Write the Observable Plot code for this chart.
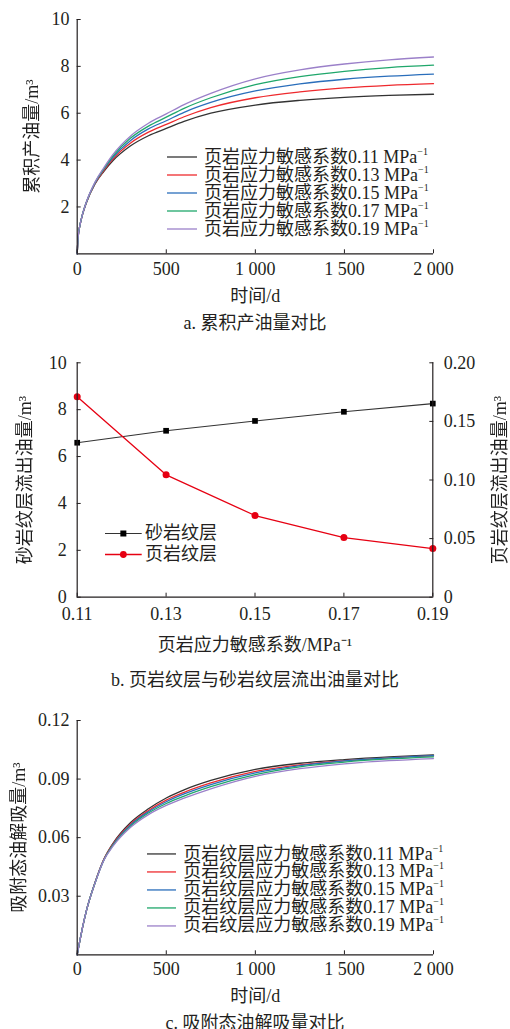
<!DOCTYPE html>
<html><head><meta charset="utf-8">
<script src="https://cdn.jsdelivr.net/npm/d3@7"></script>
<script src="https://cdn.jsdelivr.net/npm/@observablehq/plot@0.6"></script>
<style>
body{margin:0;background:#fff;}
#wrap{position:relative;width:510px;height:1029px;overflow:hidden;font-family:"Liberation Serif","Noto Sans CJK SC",serif;color:#231f20;}
.panel{position:absolute;left:0;}
.cap{position:absolute;left:0;width:510px;text-align:center;font-size:18px;line-height:20px;white-space:nowrap;}
.legend{position:absolute;font-size:18px;}
.legend .row{display:flex;align-items:center;white-space:nowrap;}
.legend .lab{display:inline-block;overflow:visible;}
.sup{font-size:10px;position:relative;top:-8px;}
</style></head>
<body><div id="wrap"></div>
<script>
// ---------- Data ----------
const days = [0, 5, 15, 30, 50, 100, 150, 200, 300, 400, 500, 600, 750, 1000, 1250, 1500, 1750, 2000];
const coefLabels = ["0.11", "0.13", "0.15", "0.17", "0.19"];
const seriesColors = ["#333333", "#ee2a2e", "#2a6ebb", "#1fa76b", "#9b80c9"];

// a. cumulative oil production (m^3)
const cumOil011 = [0, 0.7, 1.2, 1.68, 2.15, 2.98, 3.52, 3.97, 4.61, 5.04, 5.35, 5.65, 6.0, 6.35, 6.55, 6.68, 6.76, 6.81];
const cumOil013 = [0, 0.7, 1.2, 1.68, 2.16, 3.0, 3.56, 4.04, 4.73, 5.19, 5.52, 5.85, 6.24, 6.66, 6.91, 7.08, 7.19, 7.26];
const cumOil015 = [0, 0.7, 1.2, 1.69, 2.17, 3.02, 3.61, 4.11, 4.84, 5.33, 5.68, 6.04, 6.46, 6.95, 7.25, 7.45, 7.58, 7.67];
const cumOil017 = [0, 0.7, 1.2, 1.69, 2.17, 3.04, 3.64, 4.17, 4.94, 5.45, 5.83, 6.21, 6.66, 7.22, 7.56, 7.79, 7.95, 8.05];
const cumOil019 = [0, 0.7, 1.2, 1.69, 2.18, 3.06, 3.68, 4.23, 5.03, 5.57, 5.97, 6.37, 6.85, 7.47, 7.85, 8.10, 8.28, 8.40];

// b. outflow oil vs stress sensitivity coefficient
const stressCoef = [0.11, 0.13, 0.15, 0.17, 0.19];
const sandOil = [6.59, 7.10, 7.52, 7.91, 8.26];
const shaleOil = [0.171, 0.1044, 0.0697, 0.0509, 0.0415];

// c. desorbed adsorbed oil (m^3)
const desorb011 = [0, 0.0025, 0.0073, 0.014, 0.022, 0.037, 0.049, 0.057, 0.0678, 0.0748, 0.0803, 0.0845, 0.0893, 0.0950, 0.0981, 0.1000, 0.1014, 0.1024];
const desorb013 = [0, 0.0025, 0.0073, 0.014, 0.022, 0.0369, 0.0489, 0.0566, 0.067, 0.0739, 0.0792, 0.0832, 0.0880, 0.0939, 0.0973, 0.0994, 0.1009, 0.1019];
const desorb015 = [0, 0.0025, 0.0073, 0.014, 0.022, 0.0368, 0.0487, 0.0562, 0.0665, 0.0733, 0.0784, 0.0824, 0.0872, 0.0932, 0.0969, 0.0993, 0.1009, 0.1020];
const desorb017 = [0, 0.0025, 0.0073, 0.014, 0.022, 0.0368, 0.0486, 0.0559, 0.0659, 0.0726, 0.0775, 0.0813, 0.0861, 0.0923, 0.0963, 0.0987, 0.1003, 0.1014];
const desorb019 = [0, 0.0025, 0.0073, 0.014, 0.022, 0.0367, 0.0485, 0.0555, 0.0653, 0.0718, 0.0765, 0.0802, 0.0850, 0.0914, 0.0953, 0.0978, 0.0994, 0.1005];

const xTicksTime = [0, 500, 1000, 1500, 2000];
const yTicksA = [2, 4, 6, 8, 10];
const yTicksB = [0, 2, 4, 6, 8, 10];
const yTicksBRight = [0, 0.05, 0.10, 0.15, 0.20];
const yTicksC = [0.03, 0.06, 0.09, 0.12];

// ---------- Helpers ----------
const ink = "#231f20";
const fontStyle = {fontFamily: "'Liberation Serif','Noto Sans CJK SC',serif", fontSize: "18px", color: ink, background: "transparent", overflow: "visible"};
const fmtSpace = d => d3.format(",")(d).replace(/,/g, " ");
function longTable(arrs) {
  const rows = [];
  arrs.forEach((arr, k) => arr.forEach((v, i) => rows.push({t: days[i], v, k: coefLabels[k]})));
  return rows;
}
const wrap = document.getElementById("wrap");
function place(el, top) {
  el.classList.add("panel"); el.style.top = top + "px";
  // rotated titles: render with grayscale anti-aliasing
  d3.select(el).selectAll("text").filter(function() {
    const tr = this.getAttribute("transform") || "";
    return tr.includes("rotate");
  }).style("filter", "grayscale(1)");
  wrap.appendChild(el);
}
function caption(text, centerY) {
  const d = document.createElement("div"); d.className = "cap"; d.textContent = text;
  d.style.top = (centerY - 10) + "px"; wrap.appendChild(d);
}
function legend(items, left, top, rowH, swW, gap, withMarker) {
  const L = document.createElement("div"); L.className = "legend";
  L.style.left = left + "px"; L.style.top = top + "px";
  items.forEach(it => {
    const r = document.createElement("div"); r.className = "row"; r.style.height = rowH + "px";
    const s = d3.create("svg").attr("width", swW).attr("height", rowH).style("margin-right", gap + "px").style("flex", "none");
    s.append("line").attr("x1", 0).attr("x2", swW).attr("y1", rowH / 2).attr("y2", rowH / 2).attr("stroke", it.color).attr("stroke-width", it.w || 1.3);
    if (withMarker) {
      if (it.marker === "square") s.append("rect").attr("x", swW / 2 - 3).attr("y", rowH / 2 - 3).attr("width", 6).attr("height", 6).attr("fill", it.mcolor);
      else s.append("circle").attr("cx", swW / 2).attr("cy", rowH / 2).attr("r", 3.4).attr("fill", it.mcolor);
    }
    r.appendChild(s.node());
    const t = document.createElement("span"); t.className = "lab"; t.innerHTML = it.html;
    t.style.height = (rowH - 1) + "px"; t.style.lineHeight = (rowH - 1) + "px";
    r.appendChild(t);
    L.appendChild(r);
  });
  wrap.appendChild(L);
}
const titleOpts = {textAnchor: "middle", lineAnchor: "middle", fill: ink};

// ---------- Panel a ----------
const tableA = longTable([cumOil011, cumOil013, cumOil015, cumOil017, cumOil019]);
const plotA = Plot.plot({
  width: 510, height: 310, marginLeft: 76.7, marginRight: 77, marginTop: 19, marginBottom: 56.7,
  style: fontStyle,
  x: {domain: [0, 2000]}, y: {domain: [0, 10]},
  color: {domain: coefLabels, range: seriesColors},
  marks: [
    Plot.line(tableA, {x: "t", y: "v", stroke: "k", curve: "monotone-x", strokeWidth: 1.3}),
    Plot.axisX(xTicksTime, {anchor: "bottom", tickSize: -4, tickPadding: 12.7, tickFormat: fmtSpace, label: null, stroke: ink, fill: ink}),
    Plot.axisY(yTicksA, {anchor: "left", tickSize: -4, tickPadding: 11.7, label: null, stroke: ink, fill: ink}),
    Plot.ruleX([0], {stroke: ink, strokeWidth: 1.2}),
    Plot.ruleY([0], {stroke: ink, strokeWidth: 1.2}),
    Plot.text(["累积产油量/m³"], {frameAnchor: "left", dx: -44.7, rotate: -90, ...titleOpts}),
    Plot.text(["时间/d"], {frameAnchor: "bottom", dy: 42.4, ...titleOpts})
  ]
});
place(plotA, 0);
legend(coefLabels.map((c, i) => ({color: seriesColors[i], html: `页岩应力敏感系数${c} MPa<span class="sup">−1</span>`})), 167, 148.3, 18, 30, 7, false);
caption("a. 累积产油量对比", 322.7);

// ---------- Panel b ----------
const sandRows = stressCoef.map((s, i) => ({s, v: sandOil[i]}));
const shaleRows = stressCoef.map((s, i) => ({s, v: shaleOil[i]}));
const rightScale = 10 / 0.20;
const plotB = Plot.plot({
  width: 510, height: 320, marginLeft: 76.7, marginRight: 77.7, marginTop: 22.3, marginBottom: 63.3,
  style: fontStyle,
  x: {domain: [0.11, 0.19]}, y: {domain: [0, 10]},
  marks: [
    Plot.line(sandRows, {x: "s", y: "v", stroke: "#333333", strokeWidth: 1.1}),
    Plot.dot(sandRows, {x: "s", y: "v", symbol: "square", fill: "#000", r: 3.2}),
    Plot.line(shaleRows, {x: "s", y: d => d.v * rightScale, stroke: "#e60012", strokeWidth: 1.3}),
    Plot.dot(shaleRows, {x: "s", y: d => d.v * rightScale, fill: "#e60012", r: 3.5}),
    Plot.axisX(stressCoef, {anchor: "bottom", tickSize: -4, tickPadding: 14.3, tickFormat: d => d.toFixed(2), label: null, stroke: ink, fill: ink}),
    Plot.axisY(yTicksB, {anchor: "left", tickSize: -4, tickPadding: 14.5, label: null, stroke: ink, fill: ink}),
    Plot.axisY(yTicksBRight.map(d => d * rightScale), {anchor: "right", tickSize: -4, tickPadding: 15, tickFormat: d => d === 0 ? "0" : (d / rightScale).toFixed(2), label: null, stroke: ink, fill: ink}),
    Plot.ruleX([0.11], {stroke: ink, strokeWidth: 1.2}),
    Plot.ruleX([0.19], {stroke: ink, strokeWidth: 1.2}),
    Plot.ruleY([0], {stroke: ink, strokeWidth: 1.2}),
    Plot.text(["砂岩纹层流出油量/m³"], {frameAnchor: "left", dx: -51.7, rotate: -90, ...titleOpts}),
    Plot.text(["页岩纹层流出油量/m³"], {frameAnchor: "right", dx: 67.8, rotate: -90, ...titleOpts}),
    Plot.text(["页岩应力敏感系数/MPa⁻¹"], {frameAnchor: "bottom", dy: 48.3, ...titleOpts})
  ]
});
place(plotB, 340);
legend([
  {color: "#333333", mcolor: "#000", marker: "square", html: "砂岩纹层", w: 1.1},
  {color: "#e60012", mcolor: "#e60012", marker: "circle", html: "页岩纹层"}
], 105, 522.5, 21, 36.7, 3.3, true);
caption("b. 页岩纹层与砂岩纹层流出油量对比", 680);

// ---------- Panel c ----------
const tableC = longTable([desorb011, desorb013, desorb015, desorb017, desorb019]);
const plotC = Plot.plot({
  width: 510, height: 310, marginLeft: 76.7, marginRight: 77, marginTop: 20, marginBottom: 55.7,
  style: fontStyle,
  x: {domain: [0, 2000]}, y: {domain: [0, 0.12]},
  color: {domain: coefLabels, range: seriesColors},
  marks: [
    Plot.line(tableC, {x: "t", y: "v", stroke: "k", curve: "monotone-x", strokeWidth: 1.3}),
    Plot.axisX(xTicksTime, {anchor: "bottom", tickSize: -4, tickPadding: 11.7, tickFormat: fmtSpace, label: null, stroke: ink, fill: ink}),
    Plot.axisY(yTicksC, {anchor: "left", tickSize: -4, tickPadding: 11.7, tickFormat: d => d.toFixed(2), label: null, stroke: ink, fill: ink}),
    Plot.ruleX([0], {stroke: ink, strokeWidth: 1.2}),
    Plot.ruleY([0], {stroke: ink, strokeWidth: 1.2}),
    Plot.text(["吸附态油解吸量/m³"], {frameAnchor: "left", dx: -58.4, rotate: -90, ...titleOpts}),
    Plot.text(["时间/d"], {frameAnchor: "bottom", dy: 41.4, ...titleOpts})
  ]
});
place(plotC, 700);
legend(coefLabels.map((c, i) => ({color: seriesColors[i], html: `页岩纹层应力敏感系数${c} MPa<span class="sup">−1</span>`})), 146.7, 845, 17.9, 29.3, 7.3, false);
caption("c. 吸附态油解吸量对比", 1022.7);
</script></body></html>
